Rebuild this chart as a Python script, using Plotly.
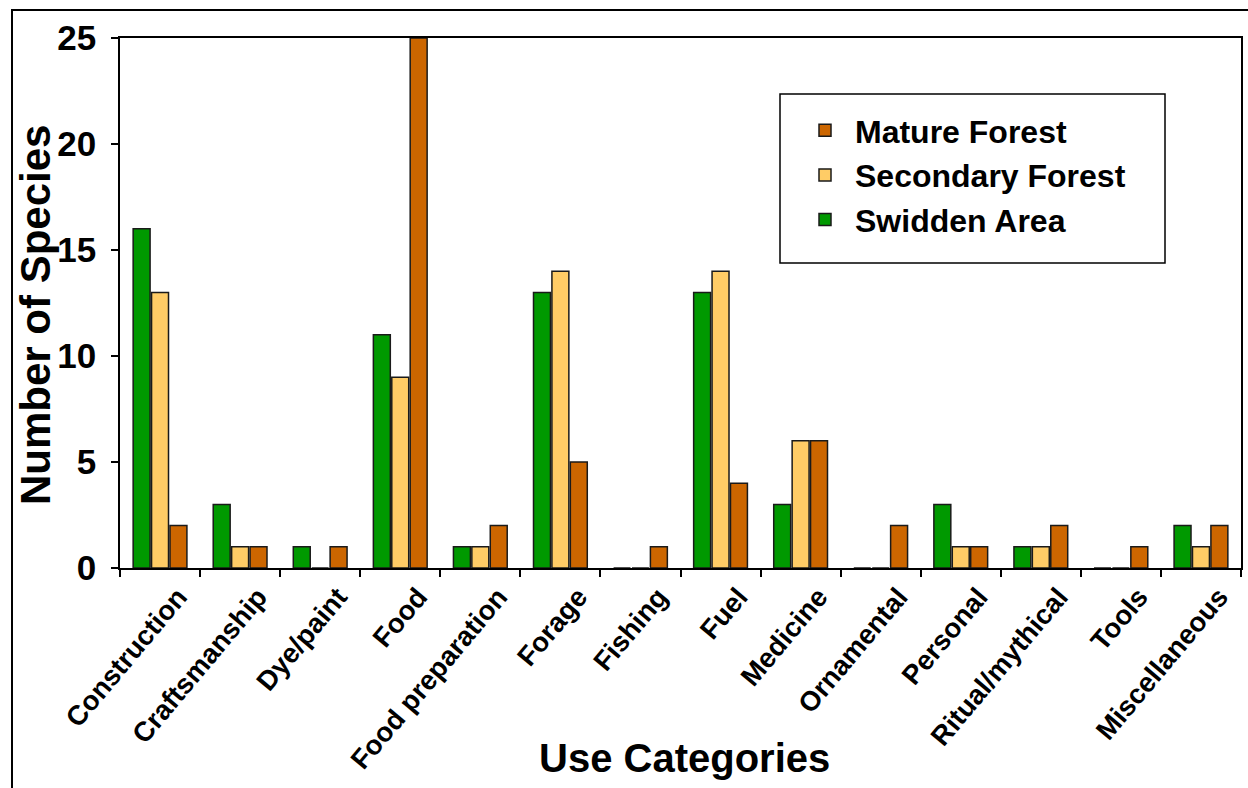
import plotly.graph_objects as go

# Use categories and species counts per habitat
categories = ["Construction", "Craftsmanship", "Dye/paint", "Food", "Food preparation",
              "Forage", "Fishing", "Fuel", "Medicine", "Ornamental", "Personal",
              "Ritual/mythical", "Tools", "Miscellaneous"]
swidden_area = [16, 3, 1, 11, 1, 13, 0, 13, 3, 0, 3, 1, 0, 2]
secondary_forest = [13, 1, 0, 9, 1, 14, 0, 14, 6, 0, 1, 1, 0, 1]
mature_forest = [2, 1, 1, 25, 2, 5, 1, 4, 6, 2, 1, 2, 1, 2]

y_ticks = [0, 5, 10, 15, 20, 25]

FONT = "Arial, Liberation Sans, sans-serif"
EDGE = dict(color="#1a1a1a", width=1.5)

fig = go.Figure()
fig.add_trace(go.Bar(name="Swidden Area", x=categories, y=swidden_area,
                     marker=dict(color="#009900", line=EDGE)))
fig.add_trace(go.Bar(name="Secondary Forest", x=categories, y=secondary_forest,
                     marker=dict(color="#FFCC66", line=EDGE)))
fig.add_trace(go.Bar(name="Mature Forest", x=categories, y=mature_forest,
                     marker=dict(color="#CC6600", line=EDGE)))

L, R, T, B = 120, 7, 38, 220
W, H = 1248, 788
pw, ph = W - L - R, H - T - B


def px_x(x):
    return (x - L) / pw


def px_y(y):
    return (H - B - y) / ph


fig.update_layout(
    width=W, height=H,
    margin=dict(l=L, r=R, t=T, b=B, autoexpand=False),
    paper_bgcolor="white", plot_bgcolor="white",
    barmode="group", bargap=0.31, bargroupgap=0.08,
    font=dict(family=FONT, color="black"),
    showlegend=True,
    legend=dict(
        x=px_x(795), y=px_y(103), xanchor="left", yanchor="top",
        traceorder="reversed", bgcolor="rgba(0,0,0,0)", borderwidth=0,
        itemwidth=50,
        font=dict(family=FONT, size=32, color="black", weight="bold"),
    ),
    xaxis=dict(
        showline=True, linecolor="black", linewidth=1.5, mirror=True,
        ticks="outside", ticklen=7, tickwidth=1.5, tickcolor="black",
        tickson="boundaries", tickangle=-50,
        ticklabelshift=18, ticklabelstandoff=0,
        tickfont=dict(family=FONT, size=27.5, color="black", weight="bold"),
        showgrid=False, zeroline=False,
    ),
    yaxis=dict(
        range=[0, 25], tickvals=y_ticks,
        showline=True, linecolor="black", linewidth=1.5, mirror=True,
        ticks="outside", ticklen=7, tickwidth=1.5, tickcolor="black",
        ticklabelstandoff=8,
        tickfont=dict(family=FONT, size=35, color="black", weight="bold"),
        showgrid=False, zeroline=False,
    ),
    shapes=[
        # outer frame
        dict(type="rect", xref="paper", yref="paper",
             x0=px_x(12), x1=px_x(1262), y0=px_y(800), y1=px_y(10),
             line=dict(color="black", width=2), fillcolor="rgba(0,0,0,0)", layer="below"),
        # legend box
        dict(type="rect", xref="paper", yref="paper",
             x0=px_x(780), x1=px_x(1165), y0=px_y(263), y1=px_y(94),
             line=dict(color="black", width=1.5), fillcolor="white", layer="below"),
    ],
    annotations=[
        dict(text="<b>Number of Species</b>", textangle=-90, xref="paper", yref="paper",
             x=px_x(35), y=px_y(315), xanchor="center", yanchor="middle", showarrow=False,
             font=dict(family=FONT, size=42, color="black")),
        dict(text="<b>Use Categories</b>", xref="paper", yref="paper",
             x=px_x(684), y=px_y(758), xanchor="center", yanchor="middle", showarrow=False,
             font=dict(family=FONT, size=40, color="black")),
    ],
)

fig.write_html("out.html")
